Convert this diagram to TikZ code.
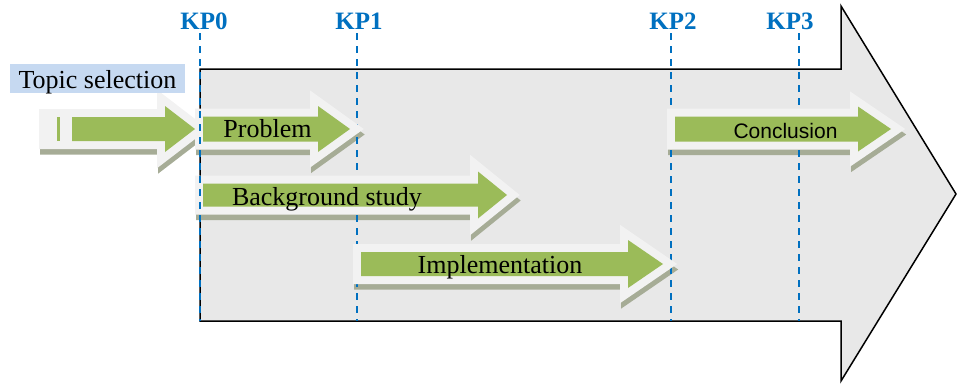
\documentclass[tikz,border=0pt]{standalone}
\usepackage{fontspec}
\setmainfont{Liberation Serif}
\newfontfamily\stagesans{Liberation Sans}

\definecolor{stagegreen}{HTML}{9BBB59}
\definecolor{glowgray}{HTML}{F2F2F2}
\definecolor{shadowgreen}{HTML}{A6AC96}
\definecolor{kpblue}{HTML}{0070C0}
\definecolor{bodygray}{HTML}{E8E8E8}
\definecolor{topicblue}{HTML}{C6D9F1}

% outline of one stage arrow: left x, head base x, tip x, centre y, half body, half head
\newcommand\stageoutline[6]{(#1,#4-#5) -- (#2,#4-#5) -- (#2,#4-#6) -- (#3,#4) -- (#2,#4+#6) -- (#2,#4+#5) -- (#1,#4+#5) -- cycle}

\begin{document}
\begin{tikzpicture}[x=1pt,y=-1pt,
  bigarrow/.style={fill=bodygray, draw=black, line width=1.5pt, line join=miter},
  glow/.style={draw=glowgray, fill=glowgray, line width=16pt, line join=miter, miter limit=10},
  arrowshadow/.style={draw=shadowgreen, line width=16pt, line join=miter, miter limit=10, shift={(1,5.5)}},
  stagefill/.style={fill=stagegreen},
  kpline/.style={draw=kpblue, line width=1.8pt, dash pattern=on 7pt off 6pt},
  kplabel/.style={text=kpblue, font=\fontsize{25}{30}\selectfont\bfseries, anchor=base, inner sep=0pt},
  stagetext/.style={font=\fontsize{26}{30}\selectfont, anchor=base, inner sep=0pt},
  topicbox/.style={fill=topicblue, minimum width=175pt, minimum height=29pt, inner sep=0pt,
    text height=20pt, text depth=1pt, font=\fontsize{26}{30}\selectfont}]
\useasboundingbox (0,0) rectangle (957,383);

% the large timeline arrow
\draw[bigarrow] (200,69) -- (841,69) -- (841,6) -- (956,194) -- (841,381) -- (841,321) -- (200,321) -- cycle;

% shadows under the stage arrows
\draw[arrowshadow] \stageoutline{47}{165}{195}{129}{12}{23};
\draw[arrowshadow] \stageoutline{203}{318}{350}{129}{12.5}{23};
\draw[arrowshadow] \stageoutline{203}{478}{507}{195}{11.5}{23.5};
\draw[arrowshadow] \stageoutline{361}{628}{663}{264}{12}{24};
\draw[arrowshadow] \stageoutline{675}{858}{891}{129}{12.5}{22.5};

% key point markers
\node[kplabel] (kp0) at (204,29.5) {KP0};
\node[kplabel] (kp1) at (359,29.5) {KP1};
\node[kplabel] (kp2) at (673,29.5) {KP2};
\node[kplabel] (kp3) at (790,29.5) {KP3};
\coordinate (kp0top) at (200,33);  \coordinate (kp0bot) at (200,321);
\coordinate (kp1top) at (357,33);  \coordinate (kp1bot) at (357,321);
\coordinate (kp2top) at (671,33);  \coordinate (kp2bot) at (671,321);
\coordinate (kp3top) at (799,33);  \coordinate (kp3bot) at (799,321);
\draw[kpline] (kp1top) -- (kp1bot);
\draw[kpline] (kp2top) -- (kp2bot);
\draw[kpline] (kp3top) -- (kp3bot);

% light halos round the stage arrows
\draw[glow] \stageoutline{47}{165}{195}{129}{12}{23};
\draw[glow] \stageoutline{203}{318}{350}{129}{12.5}{23};
\draw[glow] \stageoutline{203}{478}{507}{195}{11.5}{23.5};
\draw[glow] \stageoutline{361}{628}{663}{264}{12}{24};
\draw[glow] \stageoutline{675}{858}{891}{129}{12.5}{22.5};

\draw[kpline] (kp0top) -- (kp0bot);

% green stage arrows
\fill[stagefill] (57,117) rectangle (60,141);
\fill[stagefill] \stageoutline{72}{165}{195}{129}{12}{23};
\fill[stagefill] \stageoutline{203}{318}{350}{129}{12.5}{23};
\fill[stagefill] \stageoutline{203}{478}{507}{195}{11.5}{23.5};
\fill[stagefill] \stageoutline{361}{628}{663}{264}{12}{24};
\fill[stagefill] \stageoutline{675}{858}{891}{129}{12.5}{22.5};

% stage names
\node[stagetext] (problem) at (267.5,137) {Problem};
\node[stagetext] (background) at (327,205) {Background study};
\node[stagetext] (implementation) at (500,273) {Implementation};
\node[stagetext, font=\stagesans\fontsize{21}{26}\selectfont] (conclusion) at (785.5,138) {Conclusion};

\node[topicbox] (topic) at (97.5,78.5) {Topic selection};
\end{tikzpicture}
\end{document}
